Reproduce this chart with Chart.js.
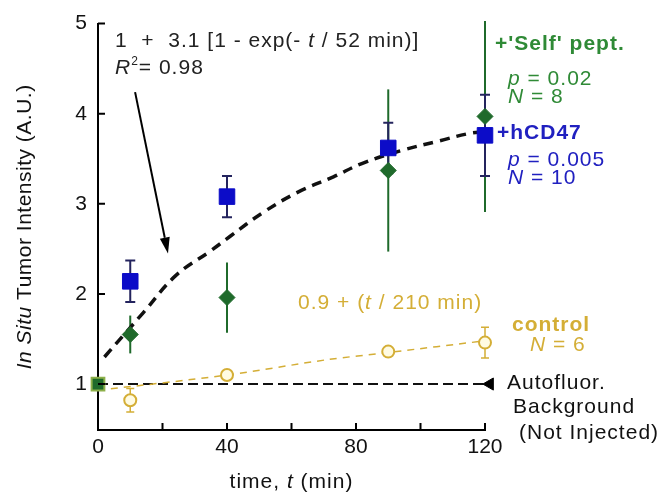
<!DOCTYPE html>
<html>
<head>
<meta charset="utf-8">
<script src="https://cdn.jsdelivr.net/npm/chart.js@4.4.1/dist/chart.umd.min.js"></script>
<style>
  html, body { margin: 0; padding: 0; background: #fff; }
</style>
</head>
<body>
<canvas id="tumorChart" width="665" height="497"></canvas>
<script>
// measured points (mean, +/- error), time in min
const hcd47Time = [10, 40, 90, 120];
const hcd47Mean = [2.14, 3.08, 3.62, 3.76];
const hcd47Err = [0.23, 0.23, 0.28, 0.45];

const selfTime = [0, 10, 40, 90, 120];
const selfMean = [1.0, 1.55, 1.96, 3.37, 3.97];
const selfErr = [0, 0.21, 0.39, 0.9, 1.06];

const controlTime = [0, 10, 40, 90, 120];
const controlMean = [1.0, 0.82, 1.1, 1.36, 1.46];
const controlErr = [0, 0.13, 0.03, 0.03, 0.17];

// fitted curves
const fitTime = [2, 14, 24, 35, 41, 51, 62, 73, 82, 94, 106, 115, 120];
const fitValue = [1.3, 1.79, 2.2, 2.48, 2.64, 2.9, 3.13, 3.3, 3.45, 3.59, 3.7, 3.78, 3.8];
const controlFitTime = [0, 40, 71, 90, 120];
const controlFitValue = [0.93, 1.1, 1.27, 1.35, 1.48];

const backgroundTime = [0, 120];
const backgroundValue = [1, 1];
const backgroundMarker = [121.5, 1];

const arrowFrom = [11.5, 4.24];
const arrowTo = [21.7, 2.45];

const xTicks = [0, 20, 40, 60, 80, 100, 120];
const xLabels = ["0", "", "40", "", "80", "", "120"];
const yTicks = [1, 2, 3, 4, 5];

const FONT = "'Liberation Sans', Arial, sans-serif";
const GREEN = "#1f6a2b";
const GREEN_TXT = "#2f8a36";
const BLUE = "#0c0cc8";
const BLUE_TXT = "#2020c0";
const NAVY = "#24245e";
const GOLD = "#d4ae36";

function pts(xs, ys) {
    return xs.map((x, i) => ({ x: x, y: ys[i] }));
}

// draw a line of text made of pieces with their own font
function drawRich(ctx, x, y, parts, align) {
    let w = 0;
    parts.forEach(p => { ctx.font = p[1]; w += ctx.measureText(p[0]).width; });
    let cx = align === "center" ? x - w / 2 : x;
    parts.forEach(p => {
        ctx.font = p[1];
        ctx.fillText(p[0], cx, y + (p[2] || 0));
        cx += ctx.measureText(p[0]).width;
    });
}

const errorBars = {
    id: "errorBars",
    beforeDatasetsDraw(chart) {
        const { ctx, scales: { x, y } } = chart;
        const groups = [
            { t: selfTime, m: selfMean, e: selfErr, color: GREEN, cap: 0, lw: 2 },
            { t: hcd47Time, m: hcd47Mean, e: hcd47Err, color: NAVY, cap: 5, lw: 2 },
            { t: controlTime, m: controlMean, e: controlErr, color: GOLD, cap: 4, lw: 1.5 }
        ];
        ctx.save();
        groups.forEach(g => {
            ctx.strokeStyle = g.color;
            ctx.lineWidth = g.lw;
            g.t.forEach((t, i) => {
                if (!g.e[i]) return;
                const px = x.getPixelForValue(t);
                const top = y.getPixelForValue(g.m[i] + g.e[i]);
                const bot = y.getPixelForValue(g.m[i] - g.e[i]);
                ctx.beginPath();
                ctx.moveTo(px, top);
                ctx.lineTo(px, bot);
                if (g.cap) {
                    ctx.moveTo(px - g.cap, top);
                    ctx.lineTo(px + g.cap, top);
                    ctx.moveTo(px - g.cap, bot);
                    ctx.lineTo(px + g.cap, bot);
                }
                ctx.stroke();
            });
        });
        ctx.restore();
    }
};

const decorations = {
    id: "decorations",
    afterDraw(chart) {
        const { ctx, scales: { x, y } } = chart;
        ctx.save();

        // inward tick marks
        ctx.strokeStyle = "#000";
        ctx.lineWidth = 2;
        ctx.beginPath();
        yTicks.forEach(v => {
            const py = y.getPixelForValue(v);
            ctx.moveTo(x.left, py);
            ctx.lineTo(x.left + 7, py);
        });
        xTicks.forEach(v => {
            const px = x.getPixelForValue(v);
            ctx.moveTo(px, y.bottom);
            ctx.lineTo(px, y.bottom - 7);
        });
        ctx.stroke();

        // arrow pointing at fit curve
        const ax0 = x.getPixelForValue(arrowFrom[0]), ay0 = y.getPixelForValue(arrowFrom[1]);
        const ax1 = x.getPixelForValue(arrowTo[0]), ay1 = y.getPixelForValue(arrowTo[1]);
        const ang = Math.atan2(ay1 - ay0, ax1 - ax0);
        const hl = 16, hw = 5;
        ctx.lineWidth = 2;
        ctx.beginPath();
        ctx.moveTo(ax0, ay0);
        ctx.lineTo(ax1 - hl * Math.cos(ang), ay1 - hl * Math.sin(ang));
        ctx.stroke();
        ctx.fillStyle = "#000";
        ctx.beginPath();
        ctx.moveTo(ax1, ay1);
        ctx.lineTo(ax1 - hl * Math.cos(ang) + hw * Math.sin(ang), ay1 - hl * Math.sin(ang) - hw * Math.cos(ang));
        ctx.lineTo(ax1 - hl * Math.cos(ang) - hw * Math.sin(ang), ay1 - hl * Math.sin(ang) + hw * Math.cos(ang));
        ctx.closePath();
        ctx.fill();

        ctx.textBaseline = "middle";
        ctx.letterSpacing = "1px";
        const reg = "21px " + FONT, ita = "italic 21px " + FONT, bold = "bold 21px " + FONT;

        ctx.fillStyle = "#222";
        drawRich(ctx, 115, 41, [["1  +  3.1 [1 - exp(- ", reg], ["t", ita], [" / 52 min)]", reg]]);
        drawRich(ctx, 115, 68, [["R", ita], ["2", "12px " + FONT, -6], ["= 0.98", reg]]);

        ctx.fillStyle = GREEN_TXT;
        drawRich(ctx, 495, 44, [["+'Self' pept.", bold]]);
        drawRich(ctx, 508, 79, [["p", ita], [" = 0.02", reg]]);
        drawRich(ctx, 508, 97, [["N", ita], [" = 8", reg]]);

        ctx.fillStyle = BLUE_TXT;
        drawRich(ctx, 497, 133, [["+hCD47", bold]]);
        drawRich(ctx, 508, 160, [["p", ita], [" = 0.005", reg]]);
        drawRich(ctx, 508, 178, [["N", ita], [" = 10", reg]]);

        ctx.fillStyle = GOLD;
        drawRich(ctx, 298, 303, [["0.9 + (", reg], ["t", ita], [" / 210 min)", reg]]);
        drawRich(ctx, 512, 325, [["control", bold]]);
        drawRich(ctx, 530, 345, [["N", ita], [" = 6", reg]]);

        ctx.fillStyle = "#111";
        drawRich(ctx, 507, 383, [["Autofluor.", reg]]);
        drawRich(ctx, 513, 407, [["Background", reg]]);
        drawRich(ctx, 519, 433, [["(Not Injected)", reg]]);

        // axis titles
        drawRich(ctx, (x.left + x.right) / 2, 482, [["time, ", reg], ["t", ita], [" (min)", reg]], "center");
        ctx.letterSpacing = "0.5px";
        ctx.translate(25, (y.top + y.bottom) / 2);
        ctx.rotate(-Math.PI / 2);
        drawRich(ctx, 0, 0, [["In Situ", ita], [" Tumor Intensity (A.U.)", reg]], "center");

        ctx.restore();
    }
};

const ctx = document.getElementById("tumorChart").getContext("2d");
new Chart(ctx, {
    type: "scatter",
    data: {
        datasets: [
            {
                label: "+'Self' pept.",
                data: pts(selfTime, selfMean),
                // the shared starting point shows as a square
                pointStyle: ["rect", "rectRot", "rectRot", "rectRot", "rectRot"],
                pointRadius: [9, 8, 8, 8, 8],
                backgroundColor: GREEN,
                borderColor: ["#8db04a", GREEN, GREEN, GREEN, GREEN],
                borderWidth: [2, 1, 1, 1, 1],
                clip: false,
                order: 1
            },
            {
                label: "+hCD47",
                data: pts(hcd47Time, hcd47Mean),
                pointStyle: "rect",
                pointRadius: 11,
                backgroundColor: BLUE,
                borderColor: BLUE,
                borderWidth: 1,
                clip: false,
                order: 2
            },
            {
                label: "control",
                data: pts(controlTime, controlMean),
                pointStyle: "circle",
                pointRadius: 6,
                backgroundColor: "#fffbe2",
                borderColor: GOLD,
                borderWidth: 2,
                clip: false,
                order: 3
            },
            {
                label: "fit",
                data: pts(fitTime, fitValue),
                showLine: true,
                tension: 0.4,
                pointRadius: 0,
                borderColor: "#111",
                borderWidth: 3.5,
                borderDash: [10, 7],
                order: 5
            },
            {
                label: "control fit",
                data: pts(controlFitTime, controlFitValue),
                showLine: true,
                tension: 0.3,
                pointRadius: 0,
                borderColor: GOLD,
                borderWidth: 1.5,
                borderDash: [7, 6],
                order: 6
            },
            {
                label: "background",
                data: pts(backgroundTime, backgroundValue),
                showLine: true,
                pointRadius: 0,
                borderColor: "#111",
                borderWidth: 2,
                borderDash: [10, 5],
                order: 7
            },
            {
                label: "background marker",
                data: [{ x: backgroundMarker[0], y: backgroundMarker[1] }],
                pointStyle: "triangle",
                rotation: -90,
                pointRadius: 7,
                backgroundColor: "#000",
                borderColor: "#000",
                clip: false,
                order: 4
            }
        ]
    },
    options: {
        responsive: false,
        animation: false,
        layout: { padding: { top: 15, right: 180, left: 0, bottom: 0 } },
        plugins: {
            legend: { display: false },
            tooltip: { enabled: false }
        },
        scales: {
            x: {
                type: "linear",
                min: 0,
                max: 120,
                afterFit: s => { s.height = 67; },
                afterBuildTicks: s => { s.ticks = xTicks.map(v => ({ value: v })); },
                grid: { display: false, drawTicks: false },
                border: { display: true, color: "#000", width: 2 },
                ticks: {
                    padding: 5,
                    color: "#111",
                    font: { family: FONT, size: 21 },
                    maxRotation: 0,
                    autoSkip: false,
                    callback: (v) => xLabels[xTicks.indexOf(v)]
                }
            },
            y: {
                type: "linear",
                min: 0.49,
                max: 5,
                afterFit: s => { s.width = 98; },
                afterBuildTicks: s => { s.ticks = yTicks.map(v => ({ value: v })); },
                grid: { display: false, drawTicks: false },
                border: { display: true, color: "#000", width: 2 },
                ticks: {
                    padding: 11,
                    color: "#111",
                    font: { family: FONT, size: 21 },
                    callback: v => String(v)
                }
            }
        }
    },
    plugins: [errorBars, decorations]
});
</script>
</body>
</html>
